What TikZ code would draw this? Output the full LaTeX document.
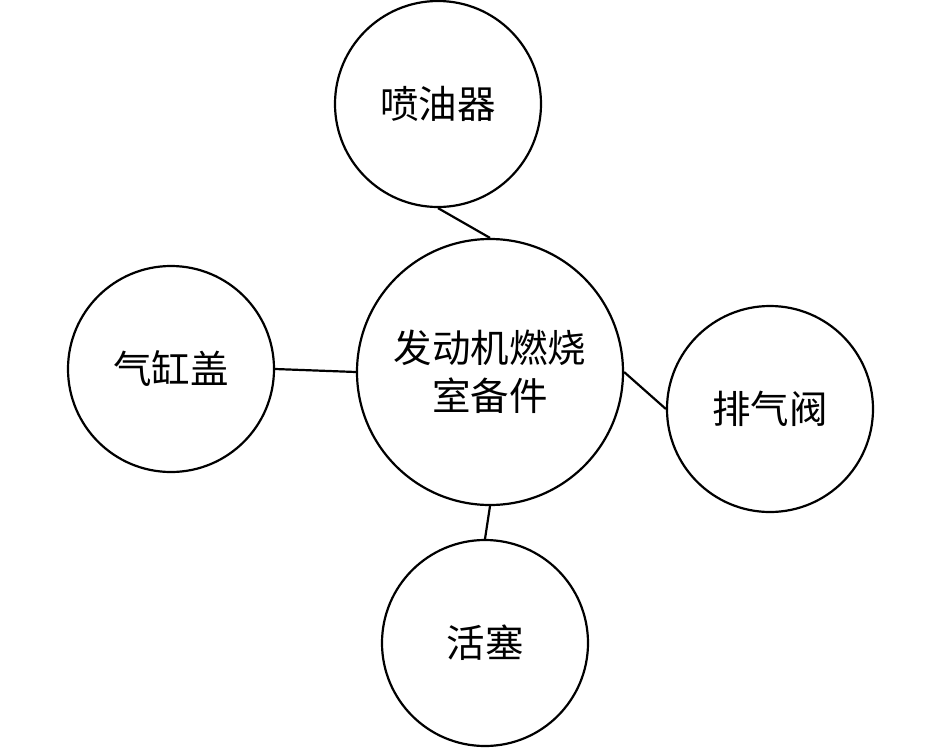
\documentclass[tikz,border=0pt]{standalone}
\usepackage{fontspec}
\setmainfont{Noto Sans CJK SC}
\begin{document}
\begin{tikzpicture}[x=1pt,y=-1pt,
  bub/.style={draw,circle,line width=2.2pt,inner sep=0pt,font=\fontsize{38.5}{48}\selectfont,align=center},
  lnk/.style={line width=2.2pt}]
\useasboundingbox (0,0) rectangle (945,750);
\node[bub,minimum size=266pt] (c) at (490,372) {发动机燃烧\\室备件};
\node[bub,minimum size=206pt] (t) at (438,104) {喷油器};
\node[bub,minimum size=206pt] (l) at (171,369) {气缸盖};
\node[bub,minimum size=206pt] (r) at (770,409) {排气阀};
\node[bub,minimum size=206pt] (b) at (485,643) {活塞};
\draw[lnk] (t.south) -- (c.north);
\draw[lnk] (l.east) -- (c.west);
\draw[lnk] (c.east) -- (r.west);
\draw[lnk] (c.south) -- (b.north);
\end{tikzpicture}
\end{document}
